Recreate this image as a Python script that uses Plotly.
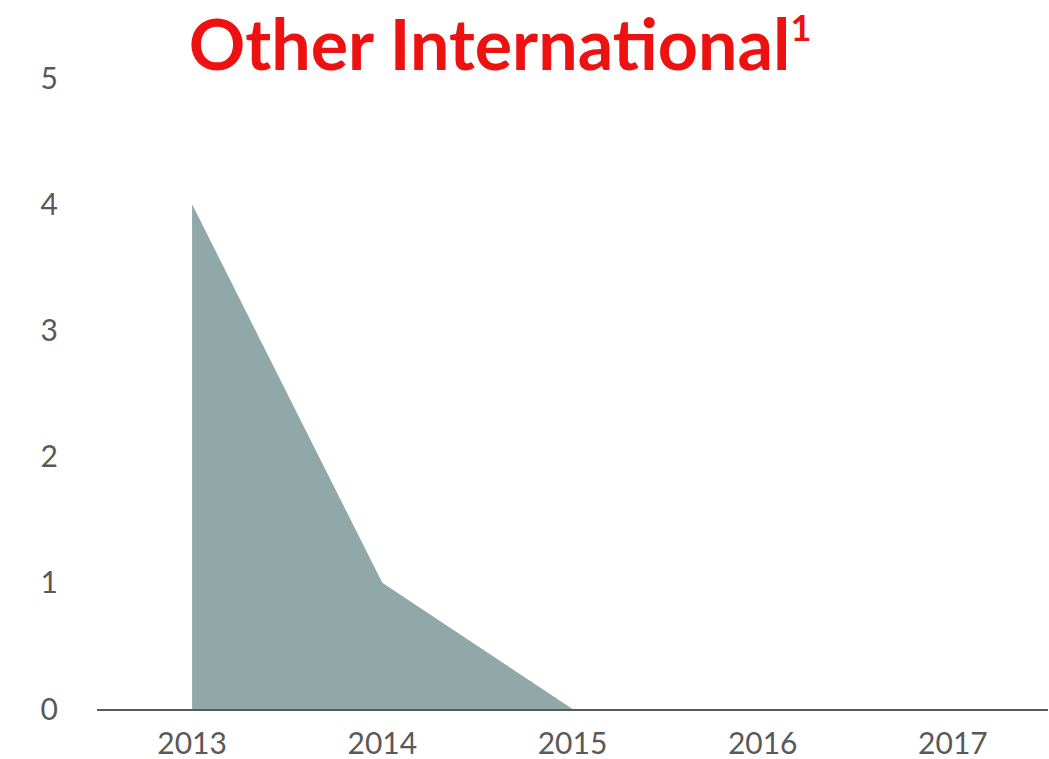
import plotly.graph_objects as go

years = ["2013", "2014", "2015", "2016", "2017"]
values = [4, 1, 0, None, None]
y_ticks = [0, 1, 2, 3, 4, 5]

fig = go.Figure()
fig.add_trace(go.Scatter(
    x=years, y=values, mode="lines", fill="tozeroy",
    fillcolor="#90A8A8", line=dict(width=0, color="#90A8A8"),
    connectgaps=False, hoverinfo="skip", showlegend=False,
))

fig.update_layout(
    width=1049, height=759,
    margin=dict(l=97, r=1, t=78, b=50, autoexpand=False),
    paper_bgcolor="white", plot_bgcolor="white",
    font=dict(family="Lato, 'Open Sans', sans-serif", color="#595959", size=30),
    title=dict(
        text="<b>Other International<sup><span style='font-size:36px'>1</span></sup></b>",
        x=500/1049, xanchor="center", xref="container",
        y=0.972, yanchor="top", yref="container",
        font=dict(family="Lato, 'Open Sans', sans-serif", size=70, color="#EE1111"),
    ),
    xaxis=dict(
        type="category", categoryorder="array", categoryarray=years,
        range=[-0.5, 4.5], showgrid=False, zeroline=False, automargin=False,
        showline=True, linecolor="#595959", linewidth=2,
        ticks="", ticklabelstandoff=7,
        tickfont=dict(size=30, color="#595959"),
    ),
    yaxis=dict(
        range=[0, 5], tickvals=y_ticks, showgrid=False, zeroline=False,
        automargin=False,
        showline=False, ticks="", ticklabelstandoff=38,
        tickfont=dict(size=30, color="#595959"),
    ),
)

fig.write_html(
    "out.html",
    config={"displayModeBar": False},
    post_script="document.body.style.margin='0';document.body.style.padding='0';",
)
